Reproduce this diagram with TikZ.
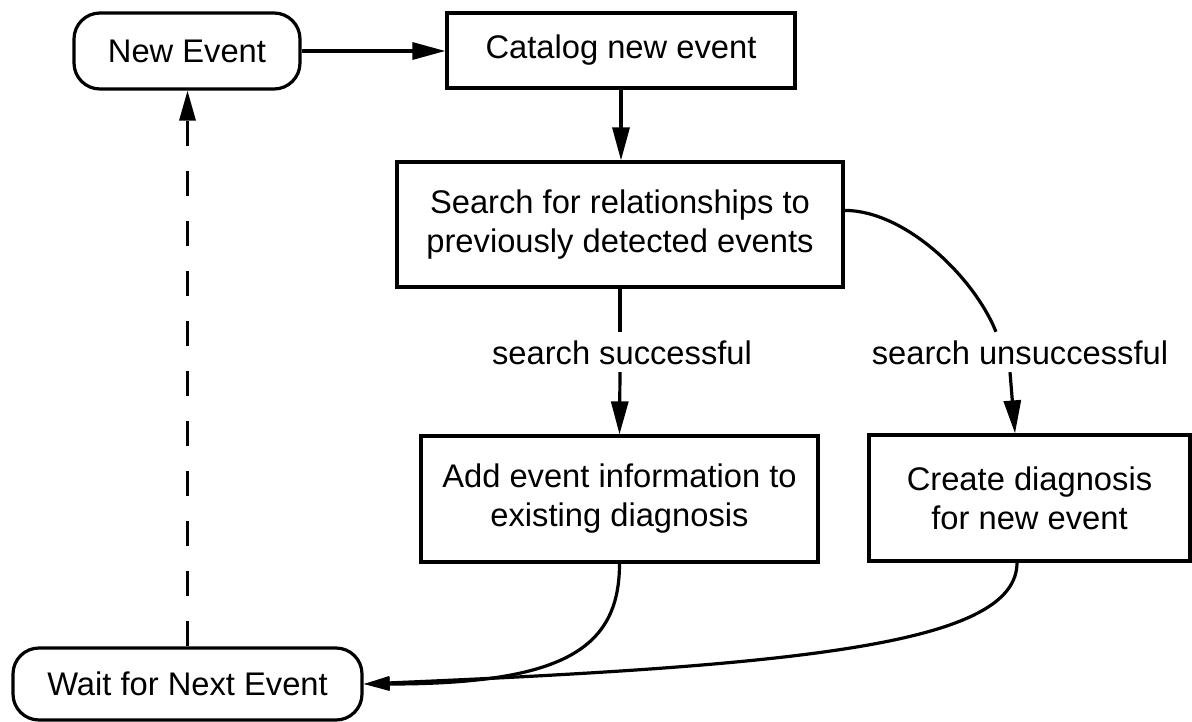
\documentclass[tikz,border=0pt]{standalone}
\usepackage{fontspec}
\setmainfont{Liberation Sans}
\usetikzlibrary{arrows.meta}

\begin{document}
\begin{tikzpicture}[x=1pt, y=-1pt,
  every node/.style={font=\fontsize{32.7pt}{39pt}\selectfont},
  box/.style={draw, line width=3.2pt, inner sep=0pt, align=center},
  pill/.style={box, rounded corners=26pt},
  lab/.style={inner sep=0pt, minimum height=40pt, text height=24pt, text depth=0pt},
  link/.style={line width=3.2pt},
  arr/.style={link, -{Triangle[length=33pt,width=17pt]}},
  arrsmall/.style={link, -{Triangle[length=26pt,width=13pt]}},
  back/.style={link, dash pattern=on 25pt off 25pt, -{Triangle[length=30pt,width=16pt]}},
]
\useasboundingbox (0,0) rectangle (1192,721);

% process states and steps
\node[pill, minimum width=226pt, minimum height=76pt] (new) at (187,51) {New Event};
\node[box, minimum width=348pt, minimum height=75pt] (cat) at (621,50.5) {Catalog new event};
\node[box, minimum width=446pt, minimum height=125pt] (search) at (620,224.5)
  {Search for relationships to\\previously detected events};
\node[box, minimum width=397pt, minimum height=126pt] (add) at (619.5,499)
  {Add event information to\\existing diagnosis};
\node[box, minimum width=321pt, minimum height=126pt] (create) at (1029.5,498)
  {Create diagnosis\\for new event};
\node[pill, minimum width=349pt, minimum height=72pt] (wait) at (187.5,684) {Wait for Next Event};

% branch labels
\node[lab] (succ) at (622,352) {search successful};
\node[lab] (unsucc) at (1020,352) {search unsuccessful};

% main flow
\draw[arr] (new.east) -- (new.east -| cat.west);
\draw[arr] (cat.south) -- (cat.south |- search.north);

% successful branch
\draw[link] (search.south) -- (search.south |- succ.north);
\draw[arr] (search.south |- succ.south) -- (add.north);

% unsuccessful branch
\draw[link] ([yshift=-50pt]search.north east)
  .. controls +(60,0) and +(-22.5,-55.6) .. ([xshift=-24pt]unsucc.north);
\draw[arr] ([xshift=-10pt]unsucc.south) -- ([xshift=-14.5pt]create.north);

% back to waiting
\draw[arrsmall] (add.south) .. controls +(0,85) and +(200,0) .. (wait.east);
\draw[arrsmall] ([xshift=-12.5pt]create.south) .. controls +(0,80) and +(450,-19) .. (wait.east);

% loop to the next event
\draw[back] (wait.north) -- (wait.north |- new.south);
\end{tikzpicture}
\end{document}
